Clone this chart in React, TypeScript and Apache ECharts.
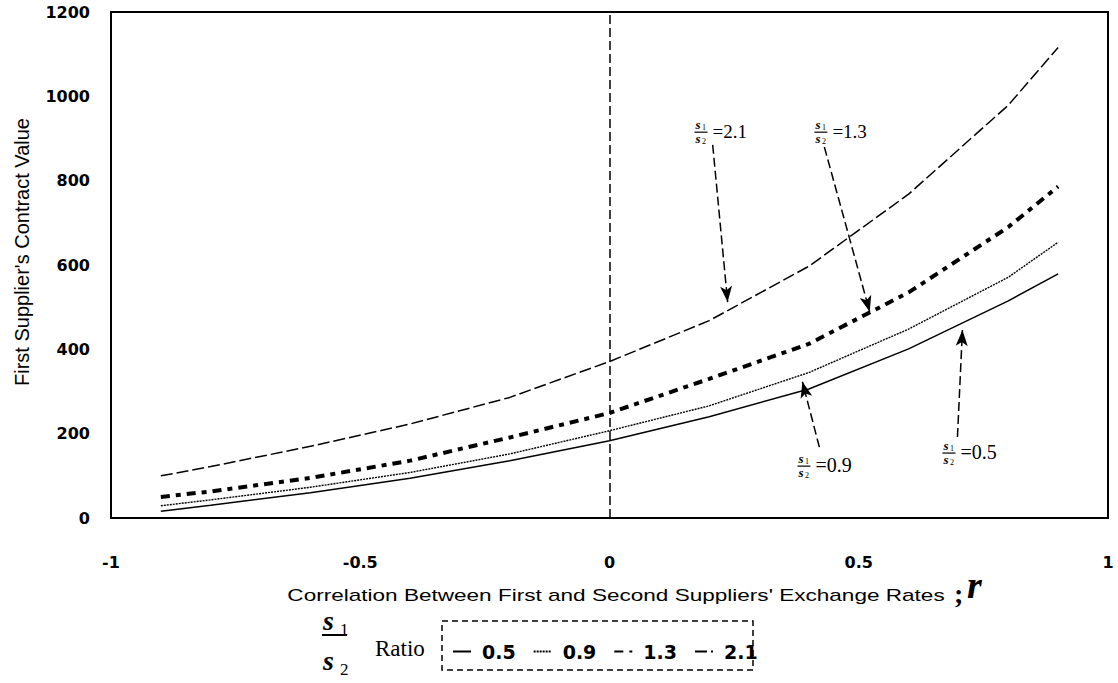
import React, { useEffect, useRef } from "react";
import * as echarts from "echarts";

// ---- data ----
const rho = [-0.9, -0.8, -0.6, -0.4, -0.2, 0, 0.2, 0.4, 0.6, 0.8, 0.9];
const v05 = [16, 30, 60, 94, 136, 183, 240, 306, 401, 515, 579];
const v09 = [29, 43, 73, 108, 152, 207, 266, 345, 448, 571, 654];
const v13 = [50, 63, 95, 136, 191, 249, 330, 413, 535, 690, 786];
const v21 = [100, 122, 170, 223, 286, 371, 468, 597, 768, 979, 1116];
const ratioNames = ["0.5", "0.9", "1.3", "2.1"];
const xTickLabels = ["-1", "-0.5", "0", "0.5", "1"];
const yTickLabels = ["0", "200", "400", "600", "800", "1000", "1200"];
const xTitle = "Correlation Between First and Second Suppliers' Exchange Rates";
const yTitle = "First Supplier's Contract Value";

// annotation arrows (data coordinates: tail -> tip)
const arrowTails = [[0.207, 885], [0.431, 880], [0.421, 168], [0.698, 192]];
const arrowTips = [[0.237, 512], [0.522, 489], [0.387, 323], [0.708, 446]];
// annotation label anchors (data coords of fraction left edge / bar)
const labelRatios = ["2.1", "1.3", "0.9", "0.5"];
const labelAnchors = [[0.1705, 915], [0.411, 915], [0.377, 123], [0.668, 154]];

const SERIF = "'Liberation Serif', 'Times New Roman', serif";
const SANS = "'Liberation Sans', Arial, sans-serif";
const BOLDSANS = "'DejaVu Sans', sans-serif";

function fraction(left: number, barY: number, big: boolean): any[] {
  const sz = big ? 28 : 13;
  const sub = big ? 17 : 8;
  const w = big ? 25 : 13;
  const lw = big ? 2 : 1.2;
  const topB = big ? barY - 5 : barY - 3.5;
  const sub1B = big ? barY : barY - 2;
  const botB = big ? barY + 35 : barY + 11;
  const sub2B = big ? barY + 40 : barY + 12.5;
  const subDx = big ? 18 : 7.5;
  const sStyle = { fontStyle: "italic", fontWeight: "bold", fontSize: sz, fontFamily: SERIF };
  const subStyle = { fontSize: sub, fontFamily: SERIF };
  const c = (b: number, s: number) => b - 0.34 * s;
  return [
    { type: "text", x: left + 1, y: c(topB, sz), style: { text: "s", ...sStyle, fill: "#000", verticalAlign: "middle" } },
    { type: "text", x: left + subDx, y: c(sub1B, sub), style: { text: "1", ...subStyle, fill: "#000", verticalAlign: "middle" } },
    { type: "rect", shape: { x: left, y: barY - lw / 2, width: w, height: lw }, style: { fill: "#000" } },
    { type: "text", x: left + 1, y: c(botB, sz), style: { text: "s", ...sStyle, fill: "#000", verticalAlign: "middle" } },
    { type: "text", x: left + subDx, y: c(sub2B, sub), style: { text: "2", ...subStyle, fill: "#000", verticalAlign: "middle" } },
  ];
}

export default function App() {
  const ref = useRef<HTMLDivElement>(null);
  useEffect(() => {
    document.body.style.margin = "0";
    const chart = echarts.init(ref.current!, null, { renderer: "svg" });
    const pts = (ys: number[]) => rho.map((x, i) => [x, ys[i]]);
    const values = [v05, v09, v13, v21];
    const lineStyles = [
      { color: "#000", width: 1.5, type: "solid" },
      { color: "#000", width: 1.4, type: [2, 1] },
      { color: "#000", width: 4, type: [9, 6, 5, 6], cap: "butt" },
      { color: "#000", width: 1.5, type: [12, 4] },
    ];
    const markData: any[] = [
      [
        { coord: [0, 0], symbol: "none" },
        { coord: [0, 1200], symbol: "none" },
      ],
    ];
    arrowTails.forEach((t, i) => {
      markData.push([
        { coord: t, symbol: "none" },
        { coord: arrowTips[i], symbol: "arrow", symbolSize: [9, 16] },
      ]);
    });
    const series: any[] = ratioNames.map((name, i) => ({
      name,
      type: "line",
      data: pts(values[i]),
      symbol: "none",
      smooth: false,
      lineStyle: lineStyles[i],
      itemStyle: { color: "#000" },
      z: 3,
      ...(i === 0
        ? {
            markLine: {
              silent: true,
              symbol: ["none", "none"],
              label: { show: false },
              lineStyle: { color: "#000", width: 1.5, type: [9, 4] },
              emphasis: { disabled: true },
              data: markData,
            },
          }
        : {}),
    }));

    chart.setOption({
      animation: false,
      backgroundColor: "#fff",
      grid: {
        left: 111,
        top: 12,
        width: 997,
        height: 506,
        show: true,
        borderColor: "#000",
        borderWidth: 2,
        backgroundColor: "transparent",
      },
      xAxis: {
        type: "value",
        min: -1,
        max: 1,
        interval: 0.5,
        axisLine: { show: false },
        axisTick: { show: false },
        splitLine: { show: false },
        axisLabel: {
          margin: 36,
          color: "#000",
          fontFamily: BOLDSANS,
          fontWeight: "bold",
          fontSize: 16,
          formatter: (v: number) => xTickLabels[Math.round((v + 1) / 0.5)] ?? "",
        },
      },
      yAxis: {
        type: "value",
        min: 0,
        max: 1200,
        interval: 200,
        axisLine: { show: false },
        axisTick: { show: false },
        splitLine: { show: false },
        axisLabel: {
          margin: 21,
          color: "#000",
          fontFamily: BOLDSANS,
          fontWeight: "bold",
          fontSize: 16,
          formatter: (v: number) => yTickLabels[Math.round(v / 200)] ?? "",
        },
      },
      legend: {
        data: ratioNames,
        left: 447,
        top: 637,
        orient: "horizontal",
        itemWidth: 18,
        itemHeight: 10,
        itemGap: 17,
        selectedMode: false,
        itemStyle: { opacity: 0 },
        textStyle: {
          color: "#000",
          fontFamily: BOLDSANS,
          fontWeight: "bold",
          fontSize: 19,
          padding: [0, 0, 0, 6],
        },
      },
      series,
    });

    const gfx: any[] = [];
    // y axis title
    gfx.push({
      type: "text",
      x: 22,
      y: 252,
      rotation: Math.PI / 2,
      style: { text: yTitle, font: `20px ${SANS}`, fill: "#000", align: "center", verticalAlign: "middle" },
    });
    // x axis title
    gfx.push({
      type: "text",
      x: 616,
      y: 595,
      scaleX: 1.41,
      style: { text: xTitle, font: `16px ${SANS}`, fill: "#000", align: "center", verticalAlign: "middle" },
    });
    gfx.push({
      type: "text",
      x: 954,
      y: 593,
      style: { text: ";", font: `bold 28px ${SERIF}`, fill: "#000", verticalAlign: "middle" },
    });
    gfx.push({
      type: "text",
      x: 967,
      y: 585,
      style: { text: "r", fontStyle: "italic", fontWeight: "bold", fontSize: 38, fontFamily: SERIF, fill: "#000", verticalAlign: "middle" },
    });
    // legend caption: fraction + Ratio + dashed box
    gfx.push(...fraction(322, 635, true));
    gfx.push({
      type: "text",
      x: 375,
      y: 648,
      style: { text: "Ratio", font: `23px ${SERIF}`, fill: "#000", verticalAlign: "middle" },
    });
    gfx.push({
      type: "rect",
      shape: { x: 442, y: 621, width: 311, height: 49 },
      style: { fill: "none", stroke: "#000", lineWidth: 1.5, lineDash: [6, 4] },
    });
    // annotation labels
    labelAnchors.forEach((a, i) => {
      const p = chart.convertToPixel({ gridIndex: 0 }, a) as number[];
      const big = i >= 2;
      gfx.push(...fraction(p[0], p[1], false));
      gfx.push({
        type: "text",
        x: p[0] + 18,
        y: p[1] - 1,
        style: { text: "=" + labelRatios[i], font: `${big ? 20 : 19}px ${SERIF}`, fill: "#000", verticalAlign: "middle" },
      });
    });
    chart.setOption({ graphic: gfx });

    return () => chart.dispose();
  }, []);
  return <div ref={ref} style={{ position: "absolute", left: 0, top: 0, width: 1118, height: 683 }} />;
}
